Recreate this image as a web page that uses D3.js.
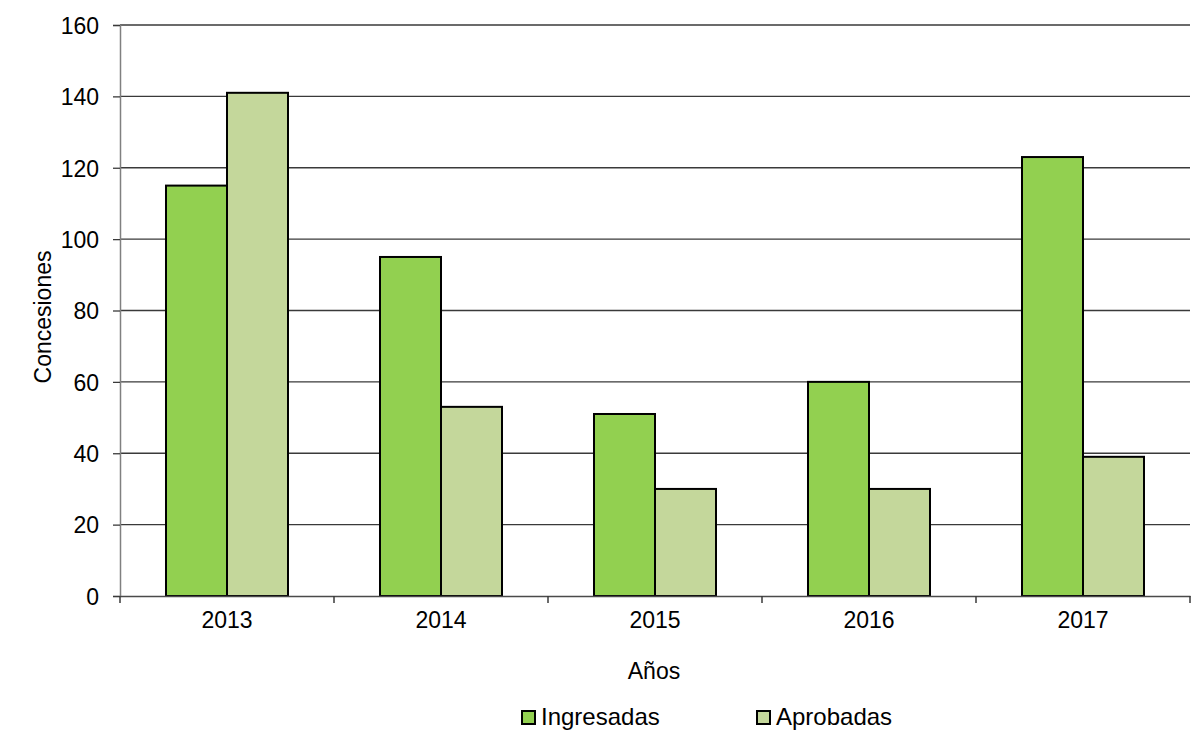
<!DOCTYPE html>
<html>
<head>
<meta charset="utf-8">
<script src="https://cdn.jsdelivr.net/npm/d3@7"></script>
<style>
  body { margin: 0; background: #fff; }
  text { font-family: "Liberation Sans", Arial, sans-serif; fill: #000; }
</style>
</head>
<body>
<div id="wrapper"></div>
<script>
// Data
var years = ["2013", "2014", "2015", "2016", "2017"];
var seriesNames = ["Ingresadas", "Aprobadas"];
var ingresadas = [115, 95, 51, 60, 123];
var aprobadas = [141, 53, 30, 30, 39];
var yTicks = [0, 20, 40, 60, 80, 100, 120, 140, 160];

var colors = { "Ingresadas": "#92d050", "Aprobadas": "#c4d79b" };

var margin = { top: 25, right: 12, bottom: 134, left: 120 };
var width = 1202 - margin.left - margin.right;
var height = 730 - margin.top - margin.bottom;

var dataset = years.map(function(y, i) {
    return { year: y, values: [
        { name: "Ingresadas", value: ingresadas[i] },
        { name: "Aprobadas", value: aprobadas[i] }
    ]};
});

var svg = d3.select("#wrapper")
    .append("svg")
    .attr("width", 1202)
    .attr("height", 730)
    .append("g")
    .attr("transform", "translate(" + margin.left + "," + margin.top + ")");

var x0 = d3.scaleBand().domain(years).range([0, width]).padding(0);
var x1 = d3.scaleBand().domain(seriesNames).range([0, x0.bandwidth()])
    .paddingInner(0).paddingOuter(0.754);
var y = d3.scaleLinear().domain([0, 160]).range([height, 0]);

// gridlines
svg.selectAll("line.grid")
    .data(yTicks.slice(1))
    .enter()
    .append("line")
    .attr("class", "grid")
    .attr("x1", 0)
    .attr("x2", width)
    .attr("y1", function(d) { return y(d); })
    .attr("y2", function(d) { return y(d); })
    .attr("stroke", "#3a3a3a")
    .attr("stroke-width", 1.3);

// y axis
var yAxis = svg.append("g")
    .call(d3.axisLeft(y).tickValues(yTicks).tickSize(7).tickPadding(14));
yAxis.select(".domain").attr("stroke", "#808080").attr("stroke-width", 1.5);
yAxis.selectAll(".tick line").attr("stroke", "#3a3a3a").attr("stroke-width", 1.3);
yAxis.selectAll("text")
    .style("font-family", "Liberation Sans, Arial, sans-serif")
    .style("font-size", "23px")
    .attr("dy", "0.36em");

// bars
var groups = svg.selectAll("g.year")
    .data(dataset)
    .enter()
    .append("g")
    .attr("class", "year")
    .attr("transform", function(d) { return "translate(" + x0(d.year) + ",0)"; });

groups.selectAll("rect")
    .data(function(d) { return d.values; })
    .enter()
    .append("rect")
    .attr("x", function(d) { return x1(d.name); })
    .attr("y", function(d) { return y(d.value); })
    .attr("width", x1.bandwidth())
    .attr("height", function(d) { return height - y(d.value); })
    .attr("fill", function(d) { return colors[d.name]; })
    .attr("stroke", "#000")
    .attr("stroke-width", 2);

// x axis with ticks on category boundaries
var xAxis = svg.append("g")
    .attr("transform", "translate(0," + height + ")")
    .call(d3.axisBottom(x0).tickSize(0).tickPadding(16));
xAxis.select(".domain").attr("stroke", "#4a4a4a").attr("stroke-width", 1.5);
xAxis.selectAll("text")
    .style("font-family", "Liberation Sans, Arial, sans-serif")
    .style("font-size", "23px");

var bounds = years.map(function(d) { return x0(d); }).concat([width]);
svg.selectAll("line.xtick")
    .data(bounds)
    .enter()
    .append("line")
    .attr("class", "xtick")
    .attr("x1", function(d) { return d; })
    .attr("x2", function(d) { return d; })
    .attr("y1", height)
    .attr("y2", height + 7)
    .attr("stroke", "#3a3a3a")
    .attr("stroke-width", 1.5);

// axis titles
svg.append("text")
    .attr("transform", "translate(" + (51 - margin.left) + "," + (317 - margin.top) + ") rotate(-90)")
    .attr("text-anchor", "middle")
    .style("font-size", "23px")
    .text("Concesiones");

svg.append("text")
    .attr("x", 654 - margin.left)
    .attr("y", 679 - margin.top)
    .attr("text-anchor", "middle")
    .style("font-size", "23px")
    .text("Años");

// legend
var legendX = [522, 757];
var legend = d3.select("svg").selectAll("g.legend")
    .data(seriesNames)
    .enter()
    .append("g")
    .attr("class", "legend")
    .attr("transform", function(d, i) { return "translate(" + legendX[i] + ",711)"; });

legend.append("rect")
    .attr("width", 13)
    .attr("height", 13)
    .attr("fill", function(d) { return colors[d]; })
    .attr("stroke", "#000")
    .attr("stroke-width", 2);

legend.append("text")
    .attr("x", 19)
    .attr("y", 14)
    .style("font-size", "24px")
    .text(function(d) { return d; });
</script>
</body>
</html>
